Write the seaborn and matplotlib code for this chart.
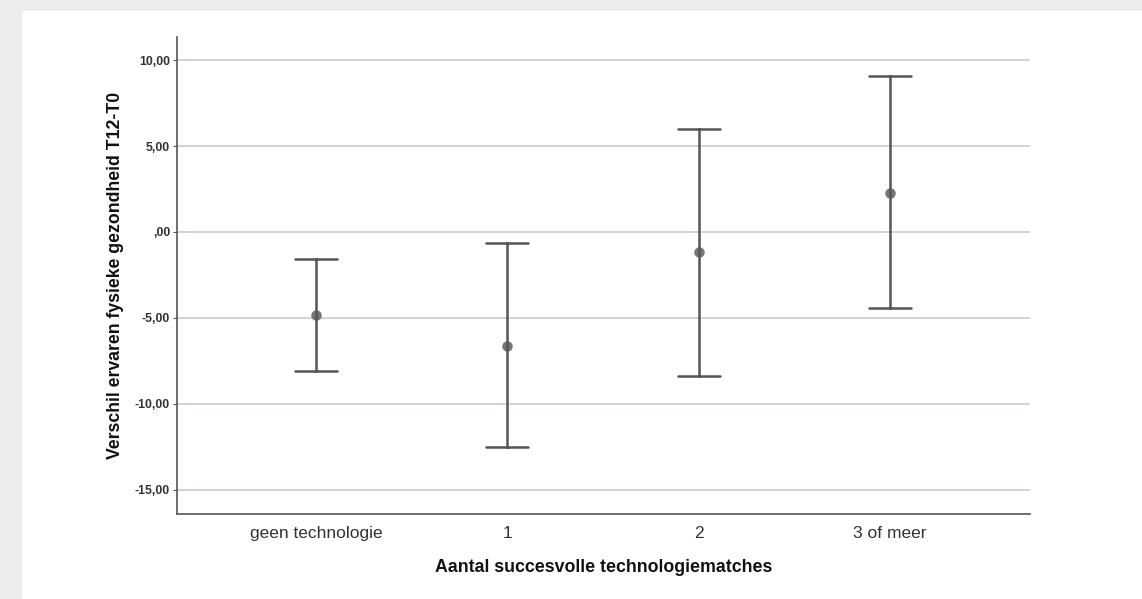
import numpy as np
import pandas as pd
import seaborn as sns
import matplotlib.pyplot as plt
from matplotlib.patches import Rectangle
from matplotlib.ticker import FuncFormatter

# data (mean with 95% CI)
groepen = ["geen technologie", "1", "2", "3 of meer"]
gemiddelde = [-4.83, -6.63, -1.16, 2.27]
ondergrens = [-8.08, -12.50, -8.37, -4.42]
bovengrens = [-1.57, -0.64, 5.99, 9.07]
y_ticks = [10, 5, 0, -5, -10, -15]

# long table: lower / mean / upper per group -> median = mean, min/max = CI
rows = []
for g, lo, m, hi in zip(groepen, ondergrens, gemiddelde, bovengrens):
    for v in (lo, m, hi):
        rows.append({"groep": g, "waarde": v})
df = pd.DataFrame(rows)

sns.set_style("white")
plt.rcParams["font.family"] = ["Liberation Sans", "DejaVu Sans"]

fig = plt.figure(figsize=(11.42, 5.99), dpi=100)
fig.patch.set_facecolor("white")
# card shadow at the top and left edge
fig.add_artist(Rectangle((0, 1 - 11 / 599), 1, 11 / 599, transform=fig.transFigure,
                         facecolor="#ececec", edgecolor="none", zorder=-5))
fig.add_artist(Rectangle((0, 0), 22 / 1142, 1, transform=fig.transFigure,
                         facecolor="#ececec", edgecolor="none", zorder=-5))

ax = fig.add_axes([177 / 1142, 1 - 514 / 599, (1030 - 177) / 1142, (514 - 37) / 599])

sns.pointplot(data=df, x="groep", y="waarde", order=groepen, ax=ax,
              estimator="median", errorbar=lambda v: (v.min(), v.max()),
              linestyle="none", capsize=0.22, color="#767676",
              marker="o", markersize=5.5,
              err_kws={"color": "#555555", "linewidth": 1.8})

ax.set_ylim(-16.4, 11.34)
ax.set_xlim(-0.728, 3.733)
ax.set_yticks(y_ticks)
ax.yaxis.set_major_formatter(FuncFormatter(
    lambda v, p: ",00" if v == 0 else f"{v:.2f}".replace(".", ",")))
for t in y_ticks:
    ax.axhline(t, color="#d8d0cc", linewidth=1.4, zorder=0)

for s in ["top", "right"]:
    ax.spines[s].set_visible(False)
for s in ["left", "bottom"]:
    ax.spines[s].set_color("#555555")
    ax.spines[s].set_linewidth(1.2)

ax.tick_params(axis="y", left=True, length=3, color="#555555", labelsize=8.8,
               labelcolor="#333333", pad=2)
ax.tick_params(axis="x", bottom=False, labelsize=12.5, labelcolor="#333333", pad=5)
for lab in ax.get_yticklabels():
    lab.set_fontweight("bold")

ax.set_xlabel("Aantal succesvolle technologiematches", fontsize=12.8,
              fontweight="bold", color="#111111", labelpad=13)
ax.set_ylabel("Verschil ervaren fysieke gezondheid T12-T0", fontsize=12.7,
              fontweight="bold", color="#111111", labelpad=8)

fig.savefig("out.png", dpi=100)
